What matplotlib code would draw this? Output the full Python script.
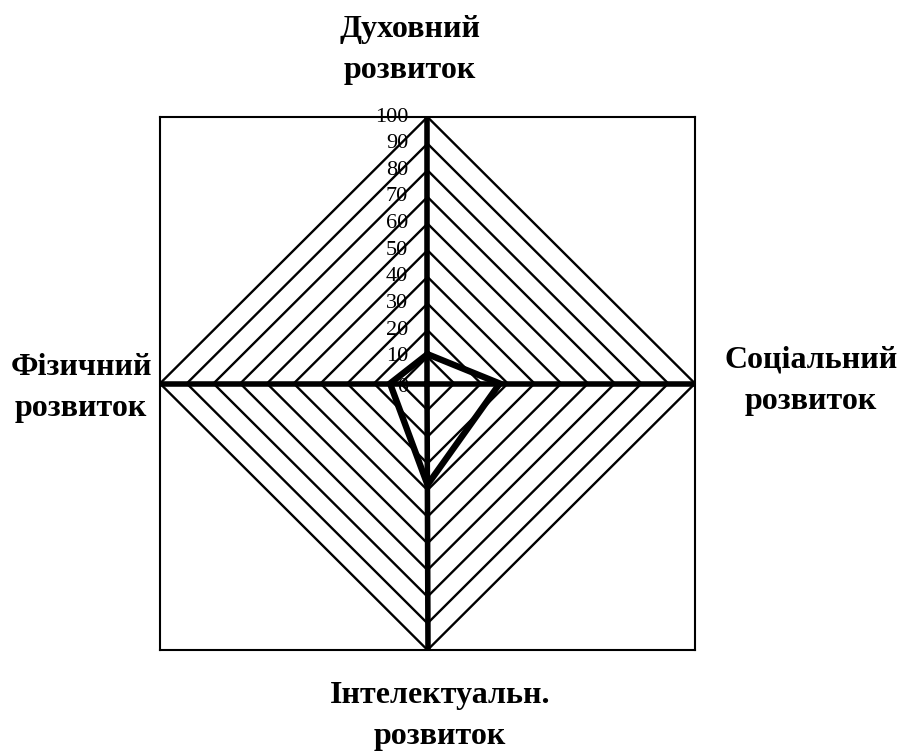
import numpy as np
import matplotlib
matplotlib.use('Agg')
import matplotlib.pyplot as plt

# Дані
categories = ['Духовний\nрозвиток', 'Соціальний\nрозвиток',
              'Інтелектуальн.\nрозвиток', 'Фізичний\nрозвиток']
values = [11, 27, 38, 14]
ticks = [0, 10, 20, 30, 40, 50, 60, 70, 80, 90, 100]

plt.rcParams['font.family'] = ['Liberation Serif', 'DejaVu Serif']

W, H = 903, 753
fig = plt.figure(figsize=(W / 100, H / 100), dpi=100)
ax = fig.add_axes([160 / W, 1 - 650 / H, 535 / W, 533 / H])
ax.set_xlim(-100, 100)
ax.set_ylim(-100, 100)
ax.set_xticks([])
ax.set_yticks([])
for s in ax.spines.values():
    s.set_linewidth(1.5)

# кути осей: верх, право, низ, ліво
theta = np.radians([0, 90, 180, 270, 360])
sx, sy = np.sin(theta), np.cos(theta)

# кільця сітки
for t in ticks[1:]:
    ax.plot(t * sx, t * sy, color='black', lw=1.7, solid_joinstyle='miter')

# осі
for i in range(4):
    ax.plot([0, ticks[-1] * sx[i]], [0, ticks[-1] * sy[i]], color='black', lw=4)

# ряд даних
v = np.array(values + values[:1], dtype=float)
ax.plot(v * sx, v * sy, color='black', lw=4.6, solid_joinstyle='miter')

# підписи шкали
for t in ticks:
    ax.annotate(str(t), (0, t), xytext=(-14, -3 if t == 0 else 0),
                textcoords='offset points', ha='right', va='center',
                fontsize=16, annotation_clip=False, zorder=5)

# назви осей
lab_pos = [(410, 50), (811, 381), (440, 716), (81, 388)]
for name, (px, py) in zip(categories, lab_pos):
    fig.text(px / W, 1 - py / H, name, ha='center', va='center',
             fontsize=23, fontweight='bold', linespacing=1.55)

fig.savefig('out.png', dpi=100)
